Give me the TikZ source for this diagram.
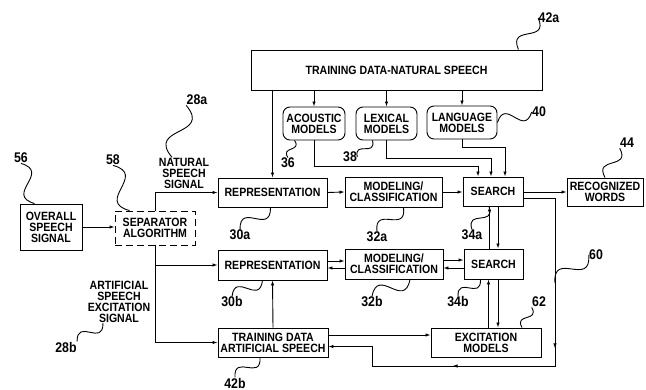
\documentclass[tikz,border=0pt]{standalone}
\usepackage{fontspec}
\setmainfont[FakeStretch=0.88]{Liberation Sans}
\usetikzlibrary{arrows.meta,calc,decorations.markings}

\begin{document}
\begin{tikzpicture}[x=1pt, y=-1pt, line width=0.9pt,
  >={Latex[length=5pt,width=3.5pt]},
  bx/.style={draw, align=center, inner sep=1pt,
    font=\fontsize{12}{11}\selectfont\bfseries},
  mdl/.style={bx, rounded corners=7pt},
  txt/.style={align=center, inner sep=0pt,
    font=\fontsize{12}{11}\selectfont\bfseries},
  num/.style={inner sep=0pt, font=\fontsize{14}{14}\selectfont\bfseries},
  wavy/.style={line width=0.7pt, to path={
    .. controls ($(\tikztostart)!0.75!55:(\tikztotarget)$)
    and ($(\tikztotarget)!0.75!55:(\tikztostart)$) .. (\tikztotarget)}},
  midarr/.style={postaction=decorate, decoration={markings,
    mark=at position 182pt with {\arrow{Latex[length=5pt,width=3.5pt]}},
    mark=at position 302pt with {\arrow{Latex[length=5pt,width=3.5pt]}}}}]

\useasboundingbox (0,0) rectangle (646,390);

% --- Natural speech path ---
\node[bx, minimum width=291pt, minimum height=40pt] (tdn) at (396.5,70)
  {TRAINING DATA-NATURAL SPEECH};
\node[mdl, minimum width=62pt, minimum height=33pt] (acou) at (314,123.5)
  {ACOUSTIC\\MODELS};
\node[mdl, minimum width=61pt, minimum height=33pt] (lexi) at (386.5,123.5)
  {LEXICAL\\MODELS};
\node[mdl, minimum width=70pt, minimum height=33pt] (lang) at (462,122.5)
  {LANGUAGE\\MODELS};
\node[bx, minimum width=109pt, minimum height=29pt] (repa) at (272.5,192.5)
  {REPRESENTATION};
\node[bx, minimum width=97pt, minimum height=30pt] (moda) at (393.5,192)
  {MODELING/\\CLASSIFICATION};
\node[bx, minimum width=60pt, minimum height=29pt] (srcha) at (493,191.5)
  {SEARCH};
\node[bx, minimum width=76pt, minimum height=28pt] (recw) at (605,192)
  {RECOGNIZED\\WORDS};

% --- Artificial speech path ---
\node[bx, minimum width=109pt, minimum height=30pt] (repb) at (272.5,265)
  {REPRESENTATION};
\node[bx, minimum width=98pt, minimum height=30pt] (modb) at (394,264)
  {MODELING/\\CLASSIFICATION};
\node[bx, minimum width=59pt, minimum height=30pt] (srchb) at (493.5,264)
  {SEARCH};
\node[bx, minimum width=110pt, minimum height=29pt] (tda) at (273,342.5)
  {TRAINING DATA\\ARTIFICIAL SPEECH};
\node[bx, minimum width=110pt, minimum height=29pt] (exc) at (486,342.5)
  {EXCITATION\\MODELS};

% --- Input side ---
\node[bx, minimum width=62pt, minimum height=46pt] (ovr) at (51,227)
  {OVERALL\\SPEECH\\SIGNAL};
\node[bx, dash pattern=on 7pt off 4pt, minimum width=80pt,
  minimum height=34pt] (sep) at (155,228) {SEPARATOR\\ALGORITHM};
\node[txt] (natsig) at (184,173) {NATURAL\\SPEECH\\SIGNAL};
\node[txt] (artsig) at (119,302) {ARTIFICIAL\\SPEECH\\EXCITATION\\SIGNAL};

% --- Models feeding search ---
\draw[->] (tdn.south -| repa.north) -- (repa.north);
\foreach \m in {acou, lexi, lang}
  \draw[->] (tdn.south -| \m.north) -- (\m.north);
\draw[->] (acou.south) -- ++(0,26) -| ([xshift=-15pt]srcha.north);
\draw[->] (lexi.south) -- ++(0,18) -| ([xshift=-2pt]srcha.north);
\draw[->] (lang.south) -- ++(0,8) -| ([xshift=12pt]srcha.north);

% --- Upper chain ---
\draw[->] (sep.north) |- (repa.west);
\draw[->] (repa.east) -- (moda.west);
\draw[->] (moda.east) -- (moda.east -| srcha.west);
\draw[->] (srcha.east |- recw.west) -- (recw.west);

% --- Lower chain ---
\draw[->] (ovr.east) -- (ovr.east -| sep.west);
\draw[->] (sep.south) |- (repb.west);
\draw[->] (sep.south) |- (tda.west);
\draw[->] ([yshift=4pt]repb.east) -- ([yshift=4pt]repb.east -| modb.west);
\draw[->] ([yshift=-4pt]modb.west) -- ([yshift=-4pt]modb.west -| repb.east);
\draw[->] ([yshift=4pt]modb.east) -- ([yshift=4pt]modb.east -| srchb.west);
\draw[->] ([yshift=-4pt]srchb.west) -- ([yshift=-4pt]srchb.west -| modb.east);
\draw[->] (tda.north) -- (repb.south);
\draw[->] ([yshift=7.5pt]tda.east) -- ([yshift=7.5pt]exc.west);

% --- Search links ---
\draw[->] ([xshift=-4pt]srchb.north) -- ([xshift=-4pt]srchb.north |- srcha.south);
\draw[->] ([xshift=5pt]srcha.south) -- ([xshift=5pt]srcha.south |- srchb.north);
\draw[->] ([xshift=-5pt]srchb.south |- exc.north) -- ([xshift=-5pt]srchb.south);
\draw[->] ([xshift=4.5pt]srchb.south) -- ([xshift=4.5pt]srchb.south |- exc.north);

% --- Feedback loop 60 ---
\coordinate (c60) at (555,283);
\coordinate (c60b) at (555,366);
\coordinate (c60c) at (372,366);
\draw[->, midarr] ([yshift=-6.5pt]srcha.east) -| (c60b) -- (c60c)
  |- ([yshift=-4pt]tda.east);

% --- Reference numerals ---
\node[num] (n56) at (21,158) {56};
\node[num] (n58) at (113,160) {58};
\node[num] (n28a) at (197,100) {28a};
\node[num] (n28b) at (66,347) {28b};
\node[num] (n42a) at (549,18) {42a};
\node[num] (n36) at (288,163) {36};
\node[num] (n38) at (350,157) {38};
\node[num] (n40) at (539,112) {40};
\node[num] (n44) at (627,143) {44};
\node[num] (n34a) at (472,235) {34a};
\node[num] (n34b) at (458,302) {34b};
\node[num] (n62) at (539,302) {62};
\node[num] (n60) at (596,255) {60};
\node[num] (n30a) at (240,235) {30a};
\node[num] (n32a) at (377,237) {32a};
\node[num] (n30b) at (232,302) {30b};
\node[num] (n32b) at (372,302) {32b};
\node[num] (n42b) at (235,383) {42b};

% --- Leaders ---
\draw (n56.south) to[wavy] ([xshift=15pt]ovr.north west);
\draw (n58.south) to[wavy] ([xshift=15pt]sep.north west);
\draw (n28a.south west) to[wavy] ([xshift=-12pt]natsig.north);
\draw (n28b.north east) to[wavy] ([xshift=-16pt]artsig.south);
\draw (n42a.west) to[wavy] ([xshift=-24pt]tdn.north east);
\draw (n36.north) to[wavy] ([xshift=12pt]acou.south west);
\draw (n38.east) to[wavy] ([xshift=17pt]lexi.south west);
\draw (n40.west) to[wavy] (lang.east);
\draw (n44.south west) to[wavy] (recw.north);
\draw (n34a.north) to[wavy] ([xshift=-4pt]srcha.south);
\draw (n34b.north) to[wavy] ([xshift=-13pt]srchb.south);
\draw (n62.south west) to[wavy] ([xshift=36pt]exc.north);
\draw (n60.west) to[wavy] (c60);
\draw (n30a.north) to[wavy] ([xshift=-2pt]repa.south);
\draw (n32a.north) to[wavy] ([xshift=10pt]moda.south);
\draw (n30b.north) to[wavy] ([xshift=-10pt]repb.south);
\draw (n32b.north) to[wavy] ([xshift=16pt]modb.south);
\draw (n42b.north) to[wavy] ([xshift=-13pt]tda.south);

\end{tikzpicture}
\end{document}
